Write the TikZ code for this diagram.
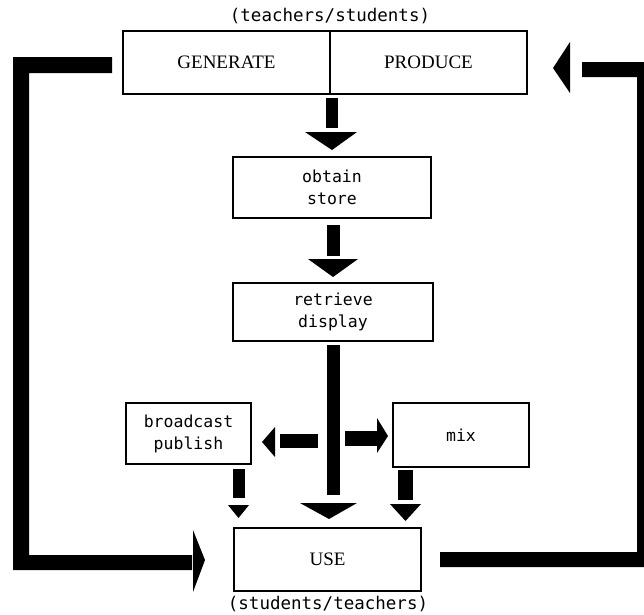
\documentclass[tikz,border=0pt]{standalone}
\usepackage{fontspec}
\setmainfont{Liberation Serif}
\newfontfamily\monof{DejaVu Sans Mono}
\begin{document}
\begin{tikzpicture}[x=1pt,y=-1pt,
  box/.style={draw, line width=1.6pt, inner sep=0pt, align=center},
  capsf/.style={font=\fontsize{19}{22}\selectfont},
  lowf/.style={font=\monof\fontsize{16.5}{22}\selectfont},
  lbl/.style={inner sep=0pt, font=\monof\fontsize{17.5}{20}\selectfont}]
\useasboundingbox (0,0) rectangle (644,614);
% boxes
\node[box,capsf,minimum width=207pt,minimum height=63pt] (gen) at (226.5,62.5) {GENERATE};
\node[box,capsf,minimum width=197pt,minimum height=63pt] (prod) at (428.5,62.5) {PRODUCE};
\node[box,lowf,minimum width=198pt,minimum height=61pt] (obt) at (332,187.5) {obtain\\store};
\node[box,lowf,minimum width=200pt,minimum height=58pt] (ret) at (333,312) {retrieve\\display};
\node[box,lowf,minimum width=125pt,minimum height=61pt] (bro) at (188.5,433.5) {broadcast\\publish};
\node[box,lowf,minimum width=136pt,minimum height=64pt] (mix) at (461,435) {mix};
\node[box,capsf,minimum width=187pt,minimum height=63pt] (use) at (327.5,559.5) {USE};
\node[lbl] (toplbl) at (330,16) {(teachers/students)};
\node[lbl] (botlbl) at (328,604) {(students/teachers)};
% generate/produce -> obtain
\fill (326,98) rectangle (338,128);
\fill (305,132) -- (357,132) -- (332,150) -- cycle;
% obtain -> retrieve
\fill (327,225) rectangle (340,256);
\fill (308,259) -- (358,259) -- (333,277) -- cycle;
% retrieve -> use
\fill (327,345) rectangle (340,495);
\fill (300,503) -- (357,503) -- (329,519) -- cycle;
% to broadcast
\fill (280,434) rectangle (318,448);
\fill (275,427) -- (262,442) -- (275,457) -- cycle;
% to mix
\fill (345,431) rectangle (377,446);
\fill (377,418) -- (388,436) -- (377,453) -- cycle;
% broadcast -> use
\fill (233,469) rectangle (245,498);
\fill (228,505) -- (249,505) -- (238.5,518) -- cycle;
% mix -> use
\fill (398,470) rectangle (413,500);
\fill (390,504) -- (421,504) -- (405.5,521) -- cycle;
% left loop
\fill (13,57) -- (112,57) -- (112,73) -- (29,73) -- (29,555) -- (192,555) -- (192,570) -- (13,570) -- cycle;
\fill (193,530) -- (205,560) -- (193,592) -- cycle;
% right loop
\fill (644,62) -- (582,62) -- (582,77) -- (637,77) -- (637,552) -- (440,552) -- (440,567) -- (644,567) -- cycle;
\fill (570,42) -- (553,68) -- (570,93) -- cycle;
\end{tikzpicture}
\end{document}
